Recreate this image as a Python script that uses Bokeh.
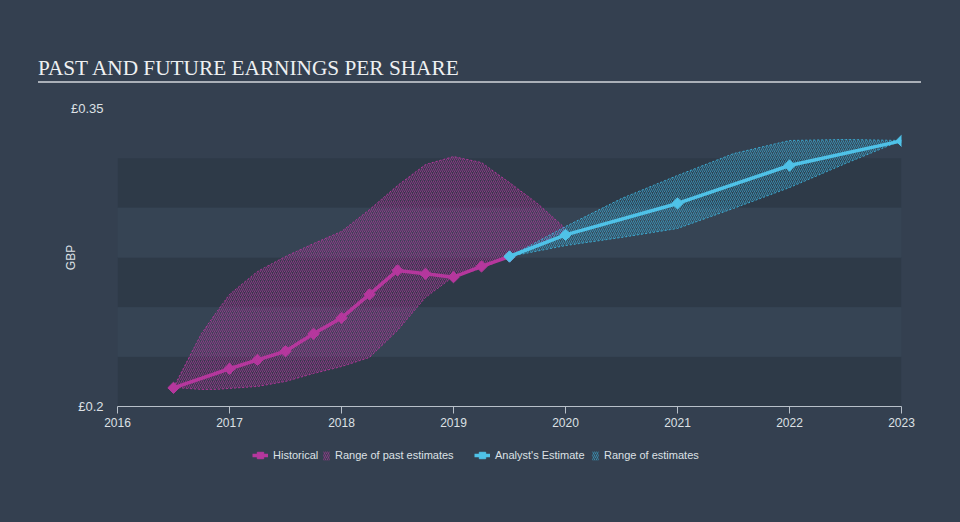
from bokeh.plotting import figure
from bokeh.models import (FixedTicker, Legend, LegendItem, BoxAnnotation, Div, Range1d)
from bokeh.layouts import column
from bokeh.embed import file_html
from bokeh.resources import INLINE

# ---------------- data ----------------
title_text = "PAST AND FUTURE EARNINGS PER SHARE"
y_axis_title = "GBP"

hist_dates = [2016.5, 2017.0, 2017.25, 2017.5, 2017.75, 2018.0, 2018.25,
              2018.5, 2018.75, 2019.0, 2019.25, 2019.5]
hist_eps = [0.2094, 0.2190, 0.2235, 0.2278, 0.2366, 0.2446, 0.2564,
            0.2685, 0.2668, 0.2651, 0.2705, 0.2755]

est_dates = [2019.5, 2020.0, 2021.0, 2022.0, 2023.0]
est_eps = [0.2755, 0.2864, 0.3022, 0.3213, 0.3337]

past_range_dates = [2016.5, 2016.625, 2016.75, 2016.875, 2017.0, 2017.25, 2017.5,
                    2017.75, 2018.0, 2018.25, 2018.5, 2018.75, 2019.0, 2019.25,
                    2019.5, 2019.75, 2020.0]
past_high = [0.2096, 0.2232, 0.2367, 0.2468, 0.2564, 0.2680, 0.2755,
             0.2820, 0.2881, 0.2991, 0.3112, 0.3218, 0.3258, 0.3228,
             0.3127, 0.3022, 0.2896]
past_low = [0.2096, 0.2091, 0.2086, 0.2086, 0.2091, 0.2101, 0.2126,
            0.2166, 0.2201, 0.2247, 0.2383, 0.2549, 0.2654, 0.2695,
            0.2755, 0.2815, 0.2886]

est_range_dates = [2019.5, 2020.0, 2020.5, 2021.0, 2021.5, 2022.0, 2022.5, 2023.0]
est_high = [0.2755, 0.2906, 0.3047, 0.3163, 0.3273, 0.3339, 0.3344, 0.3339]
est_low = [0.2755, 0.2810, 0.2851, 0.2896, 0.2997, 0.3102, 0.3223, 0.3339]

x_ticks = [2016, 2017, 2018, 2019, 2020, 2021, 2022, 2023]
x_tick_labels = ["2016", "2017", "2018", "2019", "2020", "2021", "2022", "2023"]
y_ticks = [0.2, 0.35]
y_tick_labels = ["£0.2", "£0.35"]

band_dark = [(0.2, 0.225), (0.25, 0.275), (0.3, 0.325)]
band_light = [(0.225, 0.25), (0.275, 0.3)]

legend_labels = ["Historical", "Range of past estimates",
                 "Analyst's Estimate", "Range of estimates"]

# ---------------- style ----------------
BG = "#344050"
DARK = "#2e3a48"
LIGHT = "#364454"
MAG = "#b5379d"
BLUE = "#4fc2e8"
BLUE_H = "#3db0d8"
TXT = "#dde1e5"
AXIS = "#b8c0c9"
SANS = "Liberation Sans"

W = 960
p = figure(width=W, height=357,
           x_range=Range1d(x_ticks[0], x_ticks[-1]),
           y_range=Range1d(y_ticks[0], y_ticks[-1]),
           output_backend="svg", toolbar_location=None,
           min_border_left=117, min_border_right=59,
           min_border_top=24, min_border_bottom=35,
           background_fill_color=BG, border_fill_color=BG,
           outline_line_color=None)
p.grid.visible = False

for lo, hi in band_dark:
    p.add_layout(BoxAnnotation(bottom=lo, top=hi, fill_color=DARK, fill_alpha=1,
                               line_alpha=0, level="underlay"))
for lo, hi in band_light:
    p.add_layout(BoxAnnotation(bottom=lo, top=hi, fill_color=LIGHT, fill_alpha=1,
                               line_alpha=0, level="underlay"))

range_style = dict(hatch_pattern="/", hatch_alpha=0.7, hatch_scale=4,
                   hatch_weight=0.9, line_width=1, line_dash="2 2", line_alpha=0.9,
                   fill_alpha=0.08)

past_x = past_range_dates + past_range_dates[::-1]
past_y = past_high + past_low[::-1]
est_x = est_range_dates + est_range_dates[::-1]
est_y = est_high + est_low[::-1]

line_style = dict(line_width=3.5)
mark_style = dict(marker="square", angle=0.785398, size=8)


def draw_series(fig, range_kw=None):
    rk = dict(range_style, **(range_kw or {}))
    pp = fig.patch(past_x, past_y, fill_color=MAG, hatch_color=MAG, line_color=MAG, **rk)
    ep = fig.patch(est_x, est_y, fill_color=BLUE_H, hatch_color=BLUE_H,
                   line_color=BLUE_H, **rk)
    hl = fig.line(hist_dates, hist_eps, line_color=MAG, **line_style)
    hs = fig.scatter(hist_dates, hist_eps, fill_color=MAG, line_color=MAG, **mark_style)
    el = fig.line(est_dates, est_eps, line_color=BLUE, **line_style)
    es = fig.scatter(est_dates, est_eps, fill_color=BLUE, line_color=BLUE, **mark_style)
    return pp, ep, hl, hs, el, es


draw_series(p)

# axes
xa = p.xaxis[0]
xa.ticker = FixedTicker(ticks=x_ticks)
xa.major_label_overrides = dict(zip(x_ticks, x_tick_labels))
xa.axis_line_color = AXIS
xa.axis_line_width = 1
xa.major_tick_line_color = AXIS
xa.major_tick_out = 7
xa.major_tick_in = 0
xa.minor_tick_line_color = None
xa.major_label_text_color = TXT
xa.major_label_text_font = SANS
xa.major_label_text_font_size = "12px"
xa.major_label_standoff = 4

ya = p.yaxis[0]
ya.ticker = FixedTicker(ticks=y_ticks)
ya.major_label_overrides = dict(zip(y_ticks, y_tick_labels))
ya.axis_line_color = None
ya.major_tick_line_color = None
ya.minor_tick_line_color = None
ya.major_tick_out = 0
ya.major_tick_in = 0
ya.major_label_standoff = 14
ya.major_label_text_color = TXT
ya.major_label_text_font = SANS
ya.major_label_text_font_size = "13px"
ya.axis_label = y_axis_title
ya.axis_label_text_font = SANS
ya.axis_label_text_font_size = "12px"
ya.axis_label_text_font_style = "normal"
ya.axis_label_text_color = TXT
ya.axis_label_standoff = -10

# ---------------- legend strip (own small figure; series lie outside its view) ----
lf = figure(width=W, height=81, x_range=Range1d(0, 1), y_range=Range1d(0, 1),
            output_backend="svg", toolbar_location=None,
            x_axis_location=None, y_axis_location=None,
            min_border=0, background_fill_color=BG, border_fill_color=BG,
            outline_line_color=None)
lf.grid.visible = False
r_pp, r_ep, r_hl, r_hs, r_el, r_es = draw_series(lf, dict(line_alpha=0))

# frame of the strip is aligned with the chart frame (left edge at x=117)
# (label, renderers, x offset, glyph width, glyph height, y offset)
leg_specs = [
    (legend_labels[0], [r_hl, r_hs], 135, 16, 22, 56),
    (legend_labels[1], [r_pp], 205, 8, 11, 61),
    (legend_labels[2], [r_el, r_es], 357, 16, 22, 56),
    (legend_labels[3], [r_ep], 474, 8, 11, 61),
]
for lab, rends, lx, gw, gh, ly in leg_specs:
    lg = Legend(items=[LegendItem(label=lab, renderers=rends)],
                location=(lx, ly), orientation="horizontal",
                glyph_width=gw, glyph_height=gh, label_height=12,
                label_standoff=5, padding=0, margin=0, spacing=0,
                border_line_color=None, background_fill_alpha=0,
                label_text_color=TXT, label_text_font=SANS,
                label_text_font_size="11px")
    lf.add_layout(lg)

title_div = Div(
    text=('<div style="margin-left:38px;width:883px;padding-top:55px;'
          'border-bottom:2px solid #aab0b8;font-family:\'Liberation Serif\';'
          'font-size:21.3px;line-height:26px;color:#eef0f2;white-space:nowrap;">'
          + title_text + '</div>'),
    width=W, height=84, margin=0, styles={"background-color": BG})

layout = column(title_div, p, lf, spacing=0, margin=0,
                styles={"background-color": BG})

html = file_html(layout, INLINE, title="EPS")
html = html.replace("</head>",
                    "<style>html,body{background-color:%s;}</style></head>" % BG, 1)
open("out.html", "w").write(html)
